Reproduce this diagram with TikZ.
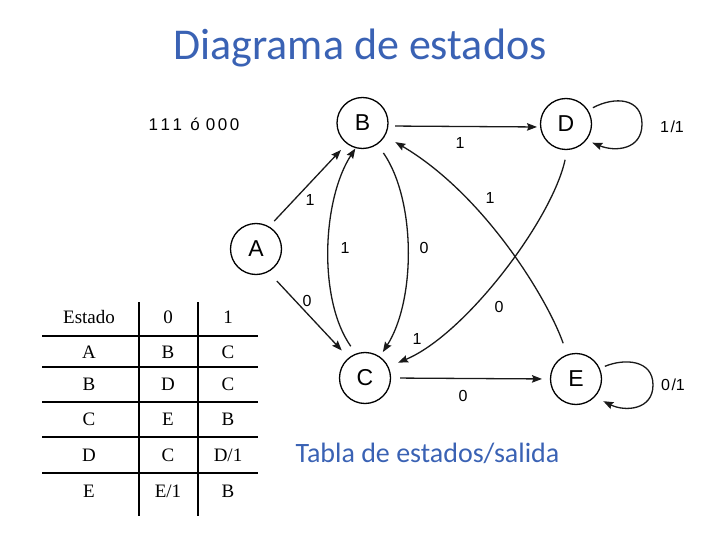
\documentclass[tikz,border=0pt]{standalone}
\usepackage{fontspec}
\setmainfont{Liberation Serif}
\newfontfamily\calfont{Carlito}
\newfontfamily\arialfont{Liberation Sans}
\usetikzlibrary{arrows.meta}
\definecolor{titleblue}{RGB}{58,98,180}
\begin{document}
\begin{tikzpicture}[x=1pt,y=-1pt,
  state/.style={circle,draw,line width=1.3pt,minimum size=51pt,inner sep=0pt,outer sep=0pt,font=\arialfont\fontsize{23}{25}\selectfont},
  edge/.style={line width=1.3pt,draw=black!90},
  arr/.style={edge,-{Stealth[length=10pt,width=7.5pt,inset=1.5pt]}},
  lab/.style={font=\arialfont\fontsize{16}{18}\selectfont,anchor=base,inner sep=0pt},
  tcell/.style={font=\fontsize{19}{21}\selectfont,anchor=base,inner sep=0pt},
  tline/.style={line width=2.5pt,draw=black}]
\useasboundingbox (0,0) rectangle (720,540);
% titles
\node[font=\calfont\fontsize{44}{48}\selectfont,text=titleblue,anchor=base,inner sep=0pt] (title) at (360,60) {Diagrama de estados};
\node[font=\calfont\fontsize{28}{32}\selectfont,text=titleblue,anchor=base,inner sep=0pt] (subt) at (427.5,462) {Tabla de estados/salida};
% note
\node[font=\arialfont\fontsize{17}{19}\selectfont,anchor=base,inner sep=0pt] (note) at (194,131) {1\kern2.5pt1\kern2.5pt1\kern2pt\ \kern1.5pt ó\kern1.5pt\ 0\kern2.5pt0\kern2.5pt0};
% states
\node[state] (A) at (256,249) {A};
\node[state] (B) at (362.5,123) {B};
\node[state] (C) at (365,378) {C};
\node[state] (D) at (566,124) {D};
\node[state] (E) at (576,379) {E};
% edges
\draw[arr,shorten <=8pt,shorten >=9pt] (A.60) -- (B.233);
\draw[arr,shorten <=9.5pt,shorten >=1pt] (C.110) .. controls (318,300) and (322,200) .. (B.255);
\draw[arr,shorten <=11pt,shorten >=6pt] (B.305) .. controls (416,200) and (416,300) .. (C.55);
\draw[arr,shorten <=13pt,shorten >=10.5pt] (A.298) -- (C.129);
\draw[arr,shorten <=7pt,shorten >=3.5pt] ([yshift=-3pt]B.east) -- ([yshift=-3pt]D.west);
\draw[arr,shorten <=6pt,shorten >=7pt] (D.32) .. controls (615,96) and (642,98) .. (642,124) .. controls (642,150) and (615,152) .. (D.-39);
\draw[arr,shorten <=12.5pt,shorten >=12.5pt] (E.110) .. controls (548,300) and (485,195) .. (B.330);
\draw[arr,shorten <=10.5pt,shorten >=11pt] (D.273) .. controls (552,220) and (465,335) .. (C.26);
\draw[arr,shorten <=9.5pt,shorten >=8.5pt] (C.east) -- (E.west);
\draw[arr,shorten <=6pt,shorten >=10pt] (E.24) .. controls (625,358) and (653,360) .. (653,385) .. controls (653,410) and (625,412) .. (E.-44);
% edge labels
\node[lab] (l1) at (310,206) {1};
\node[lab] (l2) at (345,254) {1};
\node[lab] (l3) at (424,254) {0};
\node[lab] (l4) at (307,306) {0};
\node[lab] (l5) at (460,149) {1};
\node[lab] (l6) at (672,133) {1\kern1.5pt/1};
\node[lab] (l7) at (490,204) {1};
\node[lab] (l8) at (499,312) {0};
\node[lab] (l9) at (417,344) {1};
\node[lab] (l10) at (463,401) {0};
\node[lab] (l11) at (673,390) {0\kern1.5pt/1};
% table
\draw[tline] (139,302) -- (139,516);
\draw[tline] (198,302) -- (198,516);
\foreach \yy in {336,367,402,437,473} \draw[tline] (42,\yy) -- (258,\yy);
\node[tcell] (t00) at (89,323.5) {Estado};
\node[tcell] (t01) at (168,323.5) {0};
\node[tcell] (t02) at (228,323.5) {1};
\node[tcell] (t10) at (89,358.5) {A};
\node[tcell] (t11) at (168,358.5) {B};
\node[tcell] (t12) at (228,358.5) {C};
\node[tcell] (t20) at (89,390.5) {B};
\node[tcell] (t21) at (168,390.5) {D};
\node[tcell] (t22) at (228,390.5) {C};
\node[tcell] (t30) at (89,425.5) {C};
\node[tcell] (t31) at (168,425.5) {E};
\node[tcell] (t32) at (228,425.5) {B};
\node[tcell] (t40) at (89,461.5) {D};
\node[tcell] (t41) at (168,461.5) {C};
\node[tcell] (t42) at (228,461.5) {D/1};
\node[tcell] (t50) at (89,497.5) {E};
\node[tcell] (t51) at (168,497.5) {E/1};
\node[tcell] (t52) at (228,497.5) {B};
\end{tikzpicture}
\end{document}
